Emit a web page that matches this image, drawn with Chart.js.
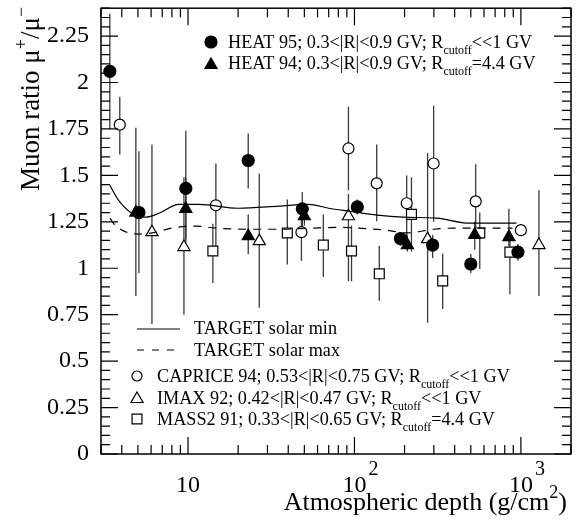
<!DOCTYPE html>
<html>
<head>
<meta charset="utf-8">
<script src="https://cdn.jsdelivr.net/npm/chart.js@4.4.1/dist/chart.umd.min.js"></script>
<style>
  body { margin: 0; background: #fff; }
  #wrap { width: 581px; height: 525px; }
</style>
</head>
<body>
<div id="wrap"><canvas id="muonChart" width="581" height="525"></canvas></div>
<script>
// Dati (profondità in g/cm2, rapporto mu+/mu-)
const heat95X  = [3.39, 5.07, 9.7, 23.0, 48.6, 104, 189, 295, 500, 960];
const heat95Y  = [2.06, 1.30, 1.43, 1.58, 1.32, 1.33, 1.16, 1.125, 1.023, 1.087];
const heat95Hi = [2.37, 1.63, 1.74, 1.725, 1.41, 1.37, 1.19, 1.18, 1.077, 1.13];
const heat95Lo = [1.75, 0.975, 1.12, 1.43, 1.22, 1.29, 1.12, 1.055, 0.975, 1.04];

const heat94X  = [4.86, 9.7, 23, 50, 208, 528, 847];
const heat94Y  = [1.30, 1.32, 1.173, 1.28, 1.125, 1.18, 1.168];
const heat94Hi = [1.757, 1.49, 1.29, 1.33, 1.18, 1.25, 1.32];
const heat94Lo = [0.85, 1.157, 1.076, 1.23, 1.09, 1.10, 1.12];

const capriceX  = [3.89, 14.7, 48, 92, 136, 206, 299, 535, 1000];
const capriceY  = [1.773, 1.339, 1.194, 1.645, 1.457, 1.35, 1.564, 1.36, 1.205];
const capriceHi = [1.923, 1.564, 1.27, 1.87, 1.666, 1.5, 1.875, 1.56, 1.205];
const capriceLo = [1.612, 1.12, 1.04, 1.42, 1.253, 1.1, 1.25, 1.2, 1.205];

const imaxX  = [6.07, 9.45, 26.8, 92, 275, 1283];
const imaxY  = [1.194, 1.114, 1.146, 1.28, 1.157, 1.125];
const imaxHi = [1.666, 1.49, 1.51, 1.40, 1.62, 1.42];
const imaxLo = [0.70, 0.75, 0.787, 0.93, 0.707, 0.85];

const mass2X  = [14.1, 39.5, 65, 96, 141, 220, 339, 566, 859];
const mass2Y  = [1.093, 1.19, 1.125, 1.093, 0.97, 1.29, 0.932, 1.19, 1.087];
const mass2Hi = [1.24, 1.37, 1.29, 1.23, 1.12, 1.49, 1.08, 1.30, 1.2];
const mass2Lo = [0.92, 1.02, 0.953, 0.93, 0.825, 1.09, 0.78, 0.996, 0.86];

// Curve TARGET
const solarMinX = [3.39, 3.8, 4.6, 5.6, 6.7, 8.8, 11.6, 20, 35, 53, 70, 93, 137, 195, 311, 490, 940];
const solarMinY = [1.446, 1.37, 1.296, 1.275, 1.296, 1.344, 1.344, 1.323, 1.334, 1.344, 1.323, 1.307, 1.286, 1.275, 1.27, 1.243, 1.243];
const solarMaxX = [3.4, 3.6, 4.4, 5.1, 6.1, 8, 11.2, 14.7, 23, 35, 55, 81, 110, 155, 205, 300, 390, 890];
const solarMaxY = [1.27, 1.237, 1.19, 1.184, 1.19, 1.216, 1.227, 1.216, 1.21, 1.21, 1.216, 1.22, 1.215, 1.205, 1.19, 1.21, 1.216, 1.216];

// Etichette degli assi
const yTickLabels = ["0", "0.25", "0.5", "0.75", "1", "1.25", "1.5", "1.75", "2", "2.25"];
const xTickValues = [10, 100, 1000];
const xTickLabels = [["10", ""], ["10", "2"], ["10", "3"]];

const FONT = "'Liberation Serif', 'Times New Roman', serif";
const LEG = 18.2; // dimensione testo legenda

function toPoints(xs, ys) {
    return xs.map((x, i) => ({ x: x, y: ys[i] }));
}

// Testo con pedici/apici: parts = [[testo, modo]], modo 0 normale, 1 pedice, 2 apice
function drawRich(ctx, x, y, parts, size, align) {
    const fontFor = m => (m === 0 ? size : Math.round(size * 0.68)) + "px " + FONT;
    let total = 0;
    parts.forEach(p => { ctx.font = fontFor(p[1]); total += ctx.measureText(p[0]).width; });
    let cx = x;
    if (align === "center") cx = x - total / 2;
    if (align === "right") cx = x - total;
    ctx.textAlign = "left";
    ctx.textBaseline = "alphabetic";
    parts.forEach(p => {
        ctx.font = fontFor(p[1]);
        let dy = 0;
        if (p[1] === 1) dy = size * 0.32;
        if (p[1] === 2) dy = -size * 0.45;
        ctx.fillText(p[0], cx, y + dy);
        cx += ctx.measureText(p[0]).width;
    });
}

function drawMarker(ctx, style, x, y, r, filled) {
    ctx.save();
    ctx.beginPath();
    if (style === "circle") {
        ctx.arc(x, y, r, 0, Math.PI * 2);
    } else if (style === "triangle") {
        let rad = 0;
        ctx.moveTo(x + Math.sin(rad) * r, y - Math.cos(rad) * r);
        rad += 2 * Math.PI / 3;
        ctx.lineTo(x + Math.sin(rad) * r, y - Math.cos(rad) * r);
        rad += 2 * Math.PI / 3;
        ctx.lineTo(x + Math.sin(rad) * r, y - Math.cos(rad) * r);
        ctx.closePath();
    } else {
        const s = Math.SQRT1_2 * r;
        ctx.rect(x - s, y - s, 2 * s, 2 * s);
    }
    ctx.fillStyle = filled ? "#000" : "#fff";
    ctx.strokeStyle = "#000";
    ctx.lineWidth = 1.2;
    ctx.fill();
    ctx.stroke();
    ctx.restore();
}

// Barre d'errore disegnate prima dei marker
const errorBars = {
    id: 'errorBars',
    beforeDatasetsDraw(chart) {
        const { ctx, scales } = chart;
        const sets = [
            [heat95X, heat95Hi, heat95Lo],
            [heat94X, heat94Hi, heat94Lo],
            [capriceX, capriceHi, capriceLo],
            [imaxX, imaxHi, imaxLo],
            [mass2X, mass2Hi, mass2Lo]
        ];
        ctx.save();
        ctx.strokeStyle = "#3a3a3a";
        ctx.lineWidth = 1.3;
        sets.forEach(s => {
            s[0].forEach((x, i) => {
                if (s[1][i] === s[2][i]) return;
                const px = scales.x.getPixelForValue(x);
                ctx.beginPath();
                ctx.moveTo(px, scales.y.getPixelForValue(s[1][i]));
                ctx.lineTo(px, scales.y.getPixelForValue(s[2][i]));
                ctx.stroke();
            });
        });
        ctx.restore();
    }
};

// Cornice, tacche interne, etichette e legende
const frameAndText = {
    id: 'frameAndText',
    afterDraw(chart) {
        const { ctx, chartArea, scales } = chart;
        const { left, right, top, bottom } = chartArea;
        ctx.save();
        ctx.strokeStyle = "#000";
        ctx.lineWidth = 1.5;
        ctx.strokeRect(left, top, right - left, bottom - top);

        // tacche asse x (sotto e sopra)
        ctx.lineWidth = 1.2;
        [1, 10, 100, 1000].forEach(d => {
            for (let m = 1; m <= 9; m++) {
                const v = m * d;
                if (v < 3 || v > 2000) continue;
                const px = scales.x.getPixelForValue(v);
                const len = m === 1 ? 17 : 9;
                ctx.beginPath();
                ctx.moveTo(px, bottom); ctx.lineTo(px, bottom - len);
                ctx.moveTo(px, top); ctx.lineTo(px, top + len);
                ctx.stroke();
            }
        });
        // tacche asse y (sinistra e destra)
        for (let i = 0; i <= 48; i++) {
            const py = scales.y.getPixelForValue(i * 0.05);
            const len = i % 5 === 0 ? 17 : 9;
            ctx.beginPath();
            ctx.moveTo(left, py); ctx.lineTo(left + len, py);
            ctx.moveTo(right, py); ctx.lineTo(right - len, py);
            ctx.stroke();
        }

        ctx.fillStyle = "#000";
        // etichette y
        ctx.font = "24px " + FONT;
        ctx.textAlign = "right";
        ctx.textBaseline = "middle";
        yTickLabels.forEach((lab, i) => {
            ctx.fillText(lab, left - 12, scales.y.getPixelForValue(i * 0.25));
        });
        // etichette x
        xTickValues.forEach((v, i) => {
            const px = scales.x.getPixelForValue(v);
            ctx.font = "24px " + FONT;
            ctx.textAlign = "center";
            ctx.textBaseline = "alphabetic";
            ctx.fillText(xTickLabels[i][0], px, bottom + 38);
            if (xTickLabels[i][1]) {
                const w = ctx.measureText(xTickLabels[i][0]).width;
                ctx.font = "20px " + FONT;
                ctx.textAlign = "left";
                ctx.fillText(xTickLabels[i][1], px + w / 2 + 2, bottom + 21);
            }
        });

        // titoli assi
        drawRich(ctx, 567, 510, [["Atmospheric depth (g/cm", 0], ["2", 2], [")", 0]], 26, "right");
        ctx.save();
        ctx.translate(39, 99);
        ctx.rotate(-Math.PI / 2);
        drawRich(ctx, 0, 0, [["Muon ratio \u03bc", 0], ["+", 2], ["/\u03bc", 0], ["\u2212", 2]], 27, "center");
        ctx.restore();

        // legenda in alto
        drawMarker(ctx, "circle", 211, 42, 6, true);
        drawRich(ctx, 228, 48, [["HEAT 95; 0.3<|R|<0.9 GV; R", 0], ["cutoff", 1], ["<<1 GV", 0]], LEG, "left");
        drawMarker(ctx, "triangle", 211, 65, 7, true);
        drawRich(ctx, 228, 69, [["HEAT 94; 0.3<|R|<0.9 GV; R", 0], ["cutoff", 1], ["=4.4 GV", 0]], LEG, "left");

        // legenda in basso
        ctx.lineWidth = 1.2;
        ctx.beginPath();
        ctx.moveTo(137, 329); ctx.lineTo(180, 329);
        ctx.stroke();
        ctx.setLineDash([7, 8]);
        ctx.beginPath();
        ctx.moveTo(137, 350); ctx.lineTo(178, 350);
        ctx.stroke();
        ctx.setLineDash([]);
        drawRich(ctx, 194, 334, [["TARGET solar min", 0]], LEG, "left");
        drawRich(ctx, 194, 356, [["TARGET solar max", 0]], LEG, "left");

        drawMarker(ctx, "circle", 137, 376, 5, false);
        drawRich(ctx, 157, 382, [["CAPRICE 94; 0.53<|R|<0.75 GV; R", 0], ["cutoff", 1], ["<<1 GV", 0]], LEG, "left");
        drawMarker(ctx, "triangle", 137, 399, 7, false);
        drawRich(ctx, 157, 404, [["IMAX 92; 0.42<|R|<0.47 GV; R", 0], ["cutoff", 1], ["<<1 GV", 0]], LEG, "left");
        drawMarker(ctx, "rect", 137, 419, 7, false);
        drawRich(ctx, 157, 425, [["MASS2 91; 0.33<|R|<0.65 GV; R", 0], ["cutoff", 1], ["=4.4 GV", 0]], LEG, "left");
        ctx.restore();
    }
};

function markerSet(label, xs, ys, style, filled, r) {
    return {
        label: label,
        data: toPoints(xs, ys),
        showLine: false,
        pointStyle: style,
        pointRadius: r,
        pointBackgroundColor: filled ? "#000" : "#fff",
        pointBorderColor: "#000",
        pointBorderWidth: 1.2,
        clip: false
    };
}

const ctx = document.getElementById("muonChart").getContext("2d");
new Chart(ctx, {
    type: "scatter",
    data: {
        datasets: [
            {
                label: "TARGET solar min",
                data: toPoints(solarMinX, solarMinY),
                showLine: true,
                borderColor: "#000",
                borderWidth: 1.2,
                pointRadius: 0,
                cubicInterpolationMode: "monotone"
            },
            {
                label: "TARGET solar max",
                data: toPoints(solarMaxX, solarMaxY),
                showLine: true,
                borderColor: "#000",
                borderWidth: 1.2,
                borderDash: [8, 7],
                pointRadius: 0,
                cubicInterpolationMode: "monotone"
            },
            markerSet("HEAT 95", heat95X, heat95Y, "circle", true, 6),
            markerSet("HEAT 94", heat94X, heat94Y, "triangle", true, 7),
            markerSet("CAPRICE 94", capriceX, capriceY, "circle", false, 5.5),
            markerSet("IMAX 92", imaxX, imaxY, "triangle", false, 7),
            markerSet("MASS2 91", mass2X, mass2Y, "rect", false, 7)
        ]
    },
    options: {
        responsive: false,
        animation: false,
        events: [],
        layout: { padding: { left: 101, right: 10, top: 5, bottom: 71 } },
        plugins: {
            legend: { display: false },
            tooltip: { enabled: false }
        },
        scales: {
            x: { type: "logarithmic", min: 3, max: 2000, display: false },
            y: { type: "linear", min: 0, max: 2.4, display: false }
        }
    },
    plugins: [errorBars, frameAndText]
});
</script>
</body>
</html>
